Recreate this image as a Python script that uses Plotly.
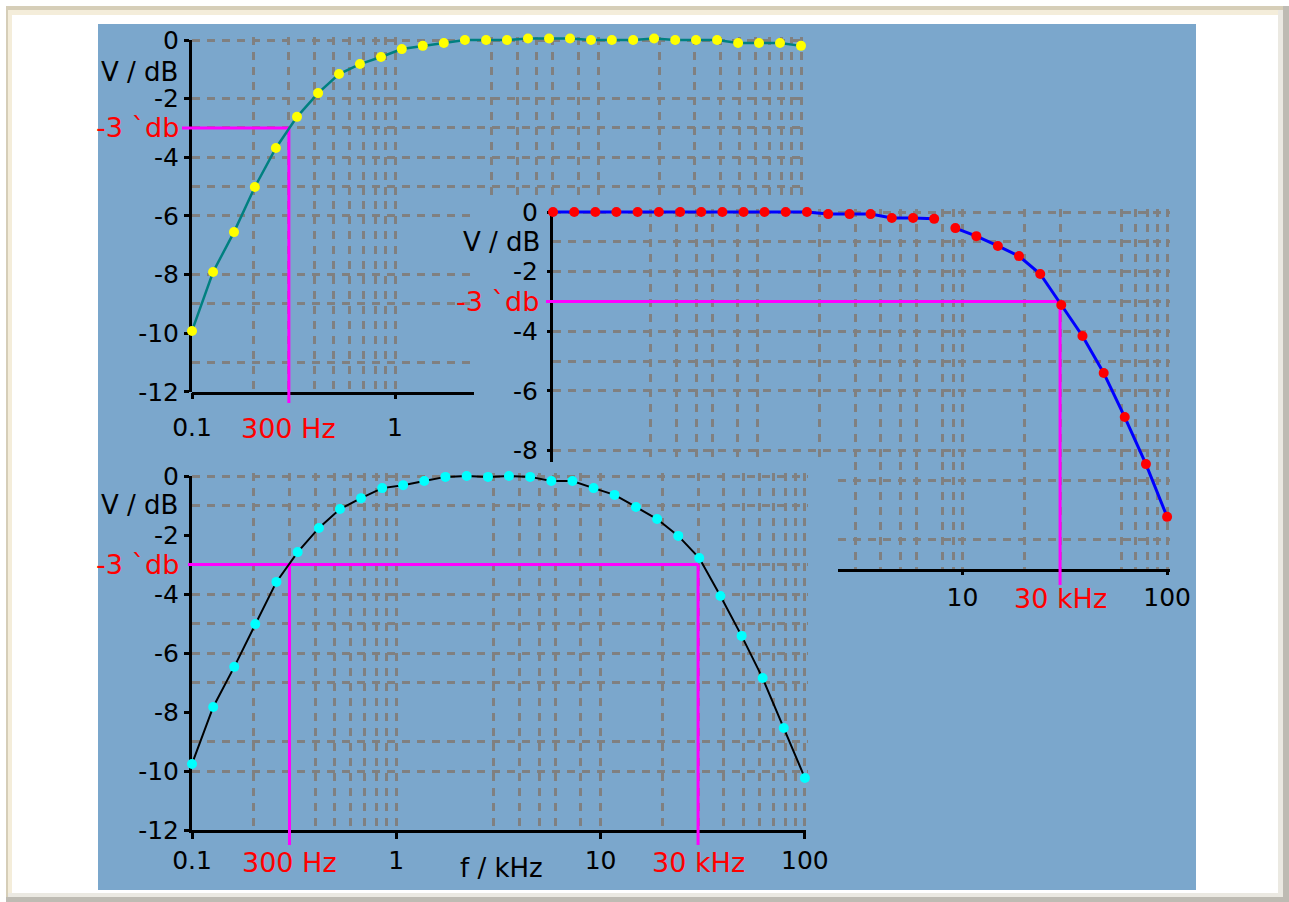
import math
import plotly.graph_objects as go

W, H = 1289, 902

# ---------------------------------------------------------------- data
# measurement frequencies (kHz), shared by all three filter curves
freq_khz = [0.1, 0.127, 0.161, 0.204, 0.259, 0.329, 0.418, 0.53, 0.672, 0.853,
            1.08, 1.37, 1.74, 2.21, 2.81, 3.56, 4.52, 5.74, 7.28, 9.24,
            11.7, 14.9, 18.9, 24.0, 30.4, 38.6, 49.0, 62.1, 78.8, 100]

# high-pass (top left)
highpass_db = [-9.92, -7.91, -6.55, -5.01, -3.68, -2.62, -1.81, -1.16, -0.82, -0.58,
               -0.31, -0.20, -0.10, 0.0, 0.0, 0.0, 0.05, 0.05, 0.05, 0.0,
               0.0, 0.0, 0.05, 0.0, 0.0, 0.0, -0.1, -0.1, -0.1, -0.2]

# low-pass (right)
lowpass_db = [0.0, 0.0, 0.0, 0.0, 0.0, 0.0, 0.0, 0.0, 0.0, 0.0,
              0.0, 0.0, 0.0, -0.07, -0.07, -0.07, -0.2, -0.2, -0.23, -0.54,
              -0.81, -1.14, -1.48, -2.08, -3.12, -4.16, -5.40, -6.88, -8.46, -10.23]
lowpass_break = 19  # the measured line is interrupted before this point

# band-pass (bottom)
bandpass_db = [-9.76, -7.83, -6.47, -5.02, -3.59, -2.58, -1.76, -1.12, -0.75, -0.41,
               -0.31, -0.17, -0.03, 0.0, -0.03, 0.0, -0.03, -0.17, -0.17, -0.41,
               -0.64, -1.05, -1.46, -2.03, -2.78, -4.07, -5.42, -6.85, -8.54, -10.24]

cutoff_db = -3
highpass_cut_khz = [0.3]
lowpass_cut_khz = [30]
bandpass_cut_khz = [0.3, 30]

y_ticks = [0, -2, -4, -6, -8, -10, -12]
lowpass_y_ticks = [0, -2, -4, -6, -8]

# dashed grid positions
hp_grid_f = [0.2, 0.3, 0.4, 0.5, 0.6, 0.7, 0.8, 0.9, 1, 3, 4, 5, 6, 8, 10,
             20, 30, 40, 50, 60, 70, 80, 90, 100]
hp_grid_db = [0, -2, -3, -4, -5, -6, -8, -9, -11]
lp_grid_f = [0.3, 0.4, 0.5, 0.6, 0.8, 1, 2, 3, 4, 5, 6, 8, 9, 10,
             20, 30, 60, 70, 80, 90, 100]
lp_grid_db = [0, -1, -2, -3, -4, -5, -6, -8, -9, -11]
bp_grid_f = [0.2, 0.3, 0.4, 0.5, 0.6, 0.7, 0.8, 0.9, 1, 3, 4, 5, 6, 8, 10,
             20, 30, 40, 50, 60, 70, 80, 90, 100]
bp_grid_db = [0, -1, -3, -4, -5, -6, -7, -9, -10]

# ---------------------------------------------------------------- styling
FAMILY = "DejaVu Sans"
FONT = dict(family=FAMILY, size=26, color="black")
TICK_FONT = dict(family=FAMILY, size=25, color="black")
RED_FONT = dict(family=FAMILY, size=27, color="#FF0000")
GRID = "#808080"
PANEL = "#7BA7CC"
MAGENTA = "#FF00FF"

# pixel frames of each chart: position of 0.1 kHz / 0 dB and scale
FR_HP = dict(x0=192, dec=203.0, y0=40, db=29.33)
FR_LP = dict(x0=553, dec=204.7, y0=212, db=29.8)
FR_BP = dict(x0=192, dec=204.3, y0=476, db=29.5)

layout_axes = {}
BASE = dict(showgrid=False, zeroline=False, showline=False, ticks="",
            showticklabels=False, fixedrange=True, automargin=False)

fig = go.Figure()


def names(n):
    s = "" if n == 1 else str(n)
    return "xaxis" + s, "yaxis" + s, "x" + s, "y" + s


def add_axes(n, fr, box, xkw=None, ykw=None):
    l, t, r, b = box
    xa, ya, xid, yid = names(n)
    x = dict(BASE, type="log", anchor=yid, domain=[l / W, r / W],
             range=[-1 + (l - fr["x0"]) / fr["dec"], -1 + (r - fr["x0"]) / fr["dec"]])
    y = dict(BASE, type="linear", anchor=xid, domain=[1 - b / H, 1 - t / H],
             range=[-(b - fr["y0"]) / fr["db"], -(t - fr["y0"]) / fr["db"]])
    x.update(xkw or {})
    y.update(ykw or {})
    layout_axes[xa] = x
    layout_axes[ya] = y
    # an empty trace registers the pane so its axes get drawn
    fig.add_trace(go.Scatter(x=[], y=[], xaxis=xid, yaxis=yid, mode="lines",
                             hoverinfo="skip"))
    return xid, yid


def grid(vals):
    return dict(showgrid=True, gridcolor=GRID, gridwidth=3, griddash="8px,7px",
                tickmode="array", tickvals=vals)


LINE = dict(showline=True, linecolor="black", linewidth=3)


def ticks(vals, text, length, standoff):
    return dict(ticks="outside", ticklen=length, tickwidth=3, tickcolor="black",
                tickmode="array", tickvals=vals, ticktext=text,
                showticklabels=True, tickfont=TICK_FONT, ticklabelstandoff=standoff)


def num(v):
    return f"{v:g}"


# grid-only panes (each covers only the region where that chart is visible)
add_axes(1, FR_HP, (192, 37, 804, 201), grid(hp_grid_f), grid(hp_grid_db))
add_axes(2, FR_HP, (192, 201, 474, 392), dict(grid(hp_grid_f), **LINE), grid(hp_grid_db))
add_axes(3, FR_LP, (553, 209, 1170, 462), grid(lp_grid_f), dict(grid(lp_grid_db), **LINE))
add_axes(4, FR_LP, (838, 462, 1170, 569), dict(grid(lp_grid_f), **LINE), grid(lp_grid_db))
add_axes(5, FR_BP, (192, 473, 808, 830), grid(bp_grid_f), grid(bp_grid_db))

# tick / label panes
x_hp_ticks = [0.1, 1]
x_lp_ticks = [10, 100]
x_bp_ticks = [0.1, 1, 10, 100]
add_axes(6, FR_HP, (192, 40, 803, 392),
         ticks(x_hp_ticks, [num(v) for v in x_hp_ticks], 6, 7),
         dict(LINE, **ticks(y_ticks, [num(v) for v in y_ticks], 5, 0)))
add_axes(7, FR_LP, (553, 212, 1170, 569),
         ticks(x_lp_ticks, [num(v) for v in x_lp_ticks], 5, 1),
         ticks(lowpass_y_ticks, [num(v) for v in lowpass_y_ticks], 5, 4))
add_axes(8, FR_BP, (192, 476, 806, 830),
         dict(LINE, **ticks(x_bp_ticks, [num(v) for v in x_bp_ticks], 6, 0)),
         dict(LINE, **ticks(y_ticks, [num(v) for v in y_ticks], 5, 0)))

# data panes (slightly larger so guides may run past the axes)
HP_BOX = (182, 33, 812, 403)
LP_BOX = (546, 205, 1176, 585)
BP_BOX = (188, 469, 814, 845)
hp_x, hp_y = add_axes(9, FR_HP, HP_BOX, dict(visible=False), dict(visible=False))
lp_x, lp_y = add_axes(10, FR_LP, LP_BOX, dict(visible=False), dict(visible=False))
bp_x, bp_y = add_axes(11, FR_BP, BP_BOX, dict(visible=False), dict(visible=False))


def guide(xid, yid, n, cuts):
    xa = layout_axes[names(n)[0]]
    ya = layout_axes[names(n)[1]]
    x_left = 10 ** xa["range"][0]
    y_bottom = ya["range"][0]
    xs = [x_left, max(cuts)]
    ys = [cutoff_db, cutoff_db]
    for c in cuts:
        xs += [None, c, c]
        ys += [None, cutoff_db, y_bottom]
    fig.add_trace(go.Scatter(x=xs, y=ys, xaxis=xid, yaxis=yid, mode="lines",
                             line=dict(color=MAGENTA, width=3), hoverinfo="skip"))


guide(hp_x, hp_y, 9, highpass_cut_khz)
guide(lp_x, lp_y, 10, lowpass_cut_khz)
guide(bp_x, bp_y, 11, bandpass_cut_khz)


def curve(xs, ys, xid, yid, line_color, line_width, marker_color):
    fig.add_trace(go.Scatter(x=xs, y=ys, xaxis=xid, yaxis=yid, mode="lines+markers",
                             line=dict(color=line_color, width=line_width),
                             marker=dict(color=marker_color, size=10, line=dict(width=0)),
                             cliponaxis=False))


curve(freq_khz, highpass_db, hp_x, hp_y, "#008080", 2.5, "#FFFF00")
curve(freq_khz[:lowpass_break], lowpass_db[:lowpass_break], lp_x, lp_y, "#0000FF", 3, "#FF0000")
curve(freq_khz[lowpass_break:], lowpass_db[lowpass_break:], lp_x, lp_y, "#0000FF", 3, "#FF0000")
curve(freq_khz, bandpass_db, bp_x, bp_y, "#000000", 2, "#00FFFF")


# ---------------------------------------------------------------- texts
def cut_label(v):
    return f"{round(v * 1000)} Hz" if v < 1 else f"{v:g} kHz"


ann = []


def text(x, y, s, font=FONT, xanchor="center", xref="paper", yref="paper"):
    ann.append(dict(x=x, y=y, text=s, xref=xref, yref=yref, xanchor=xanchor,
                    yanchor="middle", showarrow=False, font=font))


db_label = f"{cutoff_db} `db"
text(180 / W, 1 - 72 / H, "V / dB", xanchor="right")
text(542 / W, 1 - 242 / H, "V / dB", xanchor="right")
text(180 / W, 1 - 505 / H, "V / dB", xanchor="right")
text(501 / W, 1 - 868 / H, "f / kHz")

text(181 / W, cutoff_db, db_label, RED_FONT, "right", yref=hp_y)
text(541 / W, cutoff_db, db_label, RED_FONT, "right", yref=lp_y)
text(181 / W, cutoff_db, db_label, RED_FONT, "right", yref=bp_y)

for c in highpass_cut_khz:
    text(math.log10(c), 1 - 428 / H, cut_label(c), RED_FONT, xref=hp_x)
for c in lowpass_cut_khz:
    text(math.log10(c), 1 - 598 / H, cut_label(c), RED_FONT, xref=lp_x)
for c in bandpass_cut_khz:
    text(math.log10(c), 1 - 862 / H, cut_label(c), RED_FONT, xref=bp_x)


# ---------------------------------------------------------------- frame
def prect(l, t, r, b, color):
    return dict(type="rect", xref="paper", yref="paper", layer="below",
                x0=l / W, x1=r / W, y0=1 - b / H, y1=1 - t / H,
                fillcolor=color, line=dict(width=0))


shapes = [
    prect(6, 6, W, H, "#BEBBB3"),
    prect(6, 6, 1283, 897, "#D6CEB8"),
    prect(8, 10, 1283, 897, "#EBE9E2"),
    prect(8, 10, 1278, 893, "#F4EDDA"),
    prect(12, 15, 1278, 893, "#FFFFFF"),
    prect(98, 24, 1196, 890, PANEL),
]

fig.update_layout(
    width=W, height=H,
    margin=dict(l=0, r=0, t=0, b=0, autoexpand=False),
    paper_bgcolor="white",
    plot_bgcolor="rgba(0,0,0,0)",
    showlegend=False,
    font=FONT,
    shapes=shapes,
    annotations=ann,
    **layout_axes,
)

fig.write_html("out.html")
